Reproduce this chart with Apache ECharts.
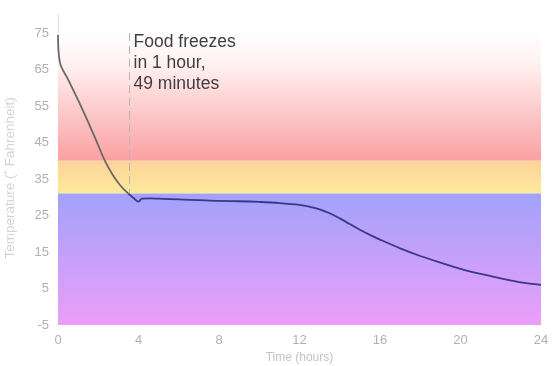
<!DOCTYPE html>
<html>
<head>
<meta charset="utf-8">
<script src="https://cdn.jsdelivr.net/npm/echarts@6/dist/echarts.min.js"></script>
<style>html,body{margin:0;padding:0;background:#fff}#c{width:559px;height:366px}</style>
</head>
<body>
<div id="c"></div>
<script>
// Data
const timeHours = [0, 0.1, 0.5, 1.0, 1.5, 2.0, 2.34, 2.7, 3.0, 3.25, 3.5, 3.75, 4.0, 4.17, 4.6, 5, 6, 7, 8, 9, 10, 11, 12, 12.5, 13, 13.5, 14, 14.5, 15, 15.5, 16, 17, 18, 19, 20, 21, 22, 23, 24];
const tempF     = [74.5, 66.8, 62.3, 56.6, 50.6, 44.2, 39.9, 36.3, 33.9, 32.3, 31.0, 29.8, 28.8, 29.6, 29.7, 29.6, 29.4, 29.2, 29.0, 28.9, 28.7, 28.4, 27.9, 27.4, 26.7, 25.6, 24.2, 22.65, 21.1, 19.7, 18.4, 16.0, 13.9, 12.1, 10.4, 9.0, 7.8, 6.7, 6.0];
const xTicks = [0, 4, 8, 12, 16, 20, 24];
const yTicks = [-5, 5, 15, 25, 35, 45, 55, 65, 75];
const zones = [
  {name: 'danger', from: 40, to: 75},
  {name: 'cool', from: 31, to: 40},
  {name: 'frozen', from: -5, to: 31}
];
const freezeTime = 3.53;
const freezeTemp = 31.0;
const annotationText = 'Food freezes\nin 1 hour,\n49 minutes';

const chart = echarts.init(document.getElementById('c'), null, {renderer: 'canvas'});
const LG = echarts.graphic.LinearGradient;
const zoneColors = [
  new LG(0, 0, 0, 1, [{offset: 0, color: 'rgba(255,255,255,1)'}, {offset: 0.25, color: '#fff0f0'}, {offset: 1, color: '#fba0a2'}]),
  new LG(0, 0, 0, 1, [{offset: 0, color: '#fdd39b'}, {offset: 1, color: '#fdea9b'}]),
  new LG(0, 0, 0, 1, [{offset: 0, color: '#a2a2fb'}, {offset: 1, color: '#eb9ef8'}])
];
const all = timeHours.map((t, i) => [t, tempF[i]]);
const upper = all.filter(p => p[0] <= 3.5);
const lower = all.filter(p => p[0] >= 3.5);
const font = 'Liberation Sans, Arial, Helvetica, sans-serif';

chart.setOption({
  animation: false,
  grid: {left: 58, right: 18, top: 14.7, bottom: 41, outerBoundsMode: 'none', containLabel: false},
  xAxis: {
    type: 'value', min: 0, max: 24, interval: 4,
    name: 'Time (hours)', nameLocation: 'middle', nameGap: 27,
    nameTextStyle: {color: '#c4c4c4', fontSize: 12, fontFamily: font},
    axisLine: {show: true, lineStyle: {color: '#eeeeee'}},
    axisTick: {show: false},
    splitLine: {show: false},
    axisLabel: {color: '#b0b0b0', fontSize: 13, fontFamily: font, margin: 9,
      formatter: v => xTicks.indexOf(v) >= 0 ? String(v) : ''}
  },
  yAxis: {
    type: 'value', min: -5, max: 80, interval: 10,
    name: 'Temperature (˚ Fahrenheit)', nameLocation: 'middle', nameGap: 41,
    nameTextStyle: {color: '#d2d2d2', fontSize: 13.5, fontFamily: font, padding: [0, 16, 0, 0]},
    axisLine: {show: true, lineStyle: {color: '#e0e0e0'}},
    axisTick: {show: false},
    splitLine: {show: false},
    axisLabel: {color: '#b0b0b0', fontSize: 13, fontFamily: font, margin: 9, showMaxLabel: false,
      formatter: v => yTicks.indexOf(v) >= 0 ? String(v) : ''}
  },
  series: [
    {
      type: 'line', data: [], silent: true,
      markArea: {
        silent: true,
        data: zones.map((z, i) => [
          {yAxis: z.to, itemStyle: {color: zoneColors[i], opacity: 1}},
          {yAxis: z.from}
        ])
      }
    },
    {
      type: 'line', data: upper, smooth: 0.35, showSymbol: false, symbol: 'none',
      lineStyle: {width: 1.8, color: '#6a6868'}, z: 5,
      markLine: {
        silent: true, symbol: ['none', 'none'],
        lineStyle: {color: '#b5b5b5', type: [8, 5], width: 1},
        label: {show: false},
        data: [[{coord: [freezeTime, 75]}, {coord: [freezeTime, freezeTemp]}]]
      },
      markPoint: {
        silent: true, symbol: 'circle', symbolSize: 1, itemStyle: {color: 'rgba(0,0,0,0)'},
        data: [{coord: [freezeTime, 75]}],
        label: {
          show: true, formatter: annotationText, position: [5, -1],
          align: 'left', verticalAlign: 'top',
          color: '#3f3f3f', fontSize: 17.5, lineHeight: 21, fontFamily: font
        }
      }
    },
    {
      type: 'line', data: lower, smooth: 0.35, showSymbol: false, symbol: 'none',
      lineStyle: {width: 1.8, color: '#3b3886'}, z: 5
    }
  ]
});
</script>
</body>
</html>
